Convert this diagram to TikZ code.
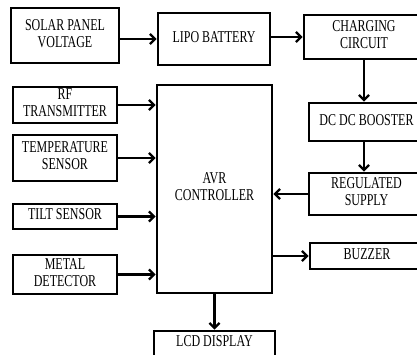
\documentclass[tikz,border=0pt]{standalone}
\usepackage{fontspec}
\setmainfont{Liberation Serif}
\usetikzlibrary{arrows.meta}
\newcommand{\tx}[1]{\scalebox{1}[1.38]{\begin{tabular}{@{}c@{}}#1\end{tabular}}}
\tikzset{
  blk/.style={draw, line width=2.8pt, inner sep=0pt, align=center,
    font=\fontsize{12}{12.3}\selectfont},
  arr/.style={line width=2.3pt, -{Straight Barb[length=5pt,width=10pt,line width=2.3pt]}}
}
\begin{document}
\begin{tikzpicture}[x=1pt,y=-1pt]
\useasboundingbox (0,0) rectangle (417,355);
\clip (0,0) rectangle (417,355);
\node[blk, minimum width=108pt, minimum height=55pt] (solar) at (65,35.5) {\tx{SOLAR PANEL\\VOLTAGE}};
\node[blk, minimum width=112pt, minimum height=52pt] (lipo) at (214,39) {\tx{LIPO BATTERY}};
\node[blk, minimum width=120pt, minimum height=44pt] (charge) at (364,37) {\tx{CHARGING\\CIRCUIT}};
\node[blk, minimum width=115pt, minimum height=38pt] (dcdc) at (366.5,122) {\tx{DC DC BOOSTER}};
\node[blk, minimum width=115pt, minimum height=42pt] (reg) at (366.5,194) {\tx{REGULATED\\SUPPLY}};
\node[blk, minimum width=114pt, minimum height=26pt] (buzzer) at (367,256) {\tx{BUZZER}};
\node[blk, minimum width=104pt, minimum height=36pt] (rf) at (65,105) {\tx{RF\\TRANSMITTER}};
\node[blk, minimum width=104pt, minimum height=46pt] (temp) at (65,158) {\tx{TEMPERATURE\\SENSOR}};
\node[blk, minimum width=104pt, minimum height=25pt] (tilt) at (65,216.5) {\tx{TILT SENSOR}};
\node[blk, minimum width=104pt, minimum height=39pt] (metal) at (65,274.5) {\tx{METAL\\DETECTOR}};
\node[blk, minimum width=115pt, minimum height=208pt] (avr) at (214.5,189) {\tx{AVR\\CONTROLLER}};
\node[blk, minimum width=121pt, minimum height=25pt] (lcd) at (214.5,343.5) {\tx{LCD DISPLAY}};
\draw[arr] (lipo.west -| solar.east) -- (lipo.west);
\draw[arr] (charge.west -| lipo.east) -- (charge.west);
\draw[arr] (charge.south) -- (dcdc.north -| charge.south);
\draw[arr] (dcdc.south -| charge.south) -- (reg.north -| charge.south);
\draw[arr] (reg.west) -- (reg.west -| avr.east);
\draw[arr] (rf.east) -- (rf.east -| avr.west);
\draw[arr] (temp.east) -- (temp.east -| avr.west);
\draw[arr] (tilt.east) -- (tilt.east -| avr.west);
\draw[arr] (metal.east) -- (metal.east -| avr.west);
\draw[arr] (buzzer.west -| avr.east) -- (buzzer.west);
\draw[arr] (avr.south) -- (lcd.north);
\end{tikzpicture}
\end{document}
